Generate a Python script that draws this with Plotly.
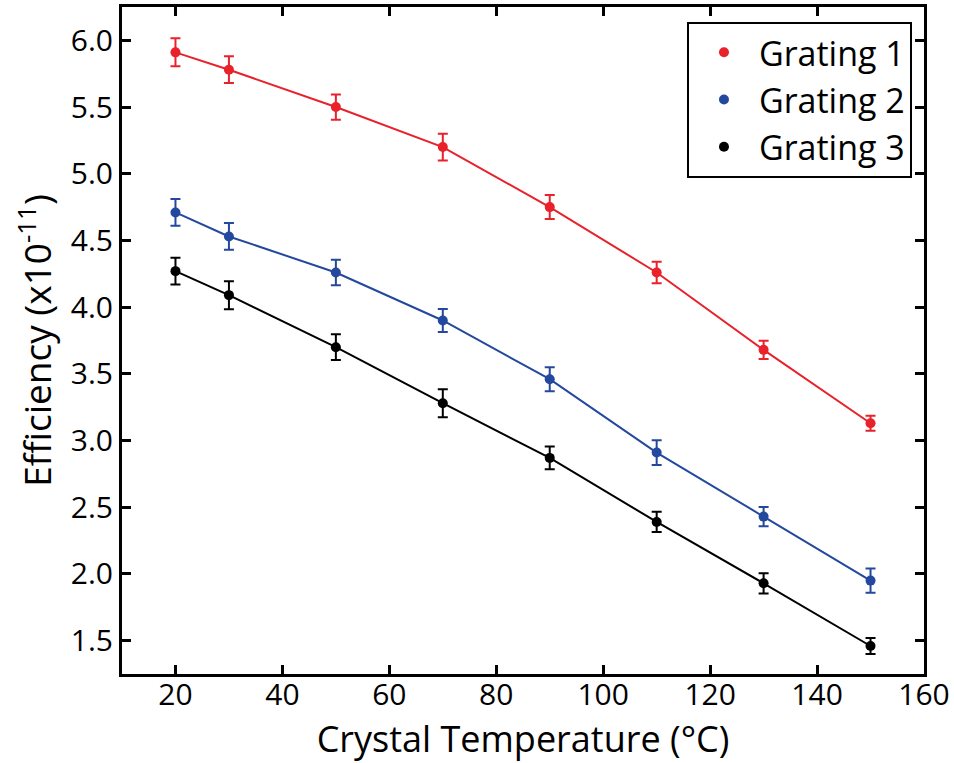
import plotly.graph_objects as go

temps = [20, 30, 50, 70, 90, 110, 130, 150]
g1 = [5.91, 5.78, 5.50, 5.20, 4.75, 4.26, 3.68, 3.13]
g1_err = [0.105, 0.10, 0.095, 0.10, 0.09, 0.08, 0.068, 0.056]
g2 = [4.71, 4.53, 4.26, 3.90, 3.46, 2.91, 2.43, 1.95]
g2_err = [0.10, 0.10, 0.095, 0.087, 0.09, 0.093, 0.072, 0.09]
g3 = [4.27, 4.09, 3.70, 3.28, 2.87, 2.39, 1.93, 1.46]
g3_err = [0.10, 0.105, 0.096, 0.105, 0.085, 0.076, 0.076, 0.06]

names = ["Grating 1", "Grating 2", "Grating 3"]
colors = ["#e8212b", "#23489e", "#000000"]
series = [(g1, g1_err), (g2, g2_err), (g3, g3_err)]

FONT = "Open Sans"

fig = go.Figure()
for name, col, (ys, es) in zip(names, colors, series):
    fig.add_trace(go.Scatter(
        x=temps, y=ys, mode="lines+markers", name=name,
        line=dict(color=col, width=2),
        marker=dict(color=col, size=10),
        error_y=dict(type="data", array=es, visible=True, color=col,
                     thickness=2, width=5),
        showlegend=False,
    ))
for name, col, (ys, es) in zip(names, colors, series):
    fig.add_trace(go.Scatter(
        x=[None], y=[None], mode="markers", name=name,
        marker=dict(color=col, size=10),
        showlegend=True,
    ))

axis_common = dict(
    showline=True, linecolor="black", linewidth=3, mirror="ticks",
    ticks="inside", ticklen=9, tickwidth=2.5, tickcolor="black",
    showgrid=False, zeroline=False,
    tickfont=dict(family=FONT, size=30, color="black"),
)

fig.update_layout(
    width=954, height=763,
    margin=dict(l=122, r=30, t=4, b=89),
    paper_bgcolor="white", plot_bgcolor="white",
    font=dict(family=FONT, color="black"),
    xaxis=dict(range=[10, 160], tickvals=[20, 40, 60, 80, 100, 120, 140, 160],
               ticklabelstandoff=-8,
               title=dict(text="Crystal Temperature (°C)",
                          font=dict(family=FONT, size=36), standoff=12),
               **axis_common),
    yaxis=dict(range=[1.25, 6.25], tickvals=[1.5, 2.0, 2.5, 3.0, 3.5, 4.0, 4.5, 5.0, 5.5, 6.0],
               tickformat=".1f",
               title=dict(text="Efficiency (x10<sup>-11</sup>)",
                          font=dict(family=FONT, size=37), standoff=8),
               **axis_common),
    legend=dict(x=0.985, y=0.978, xanchor="right", yanchor="top",
                bordercolor="black", borderwidth=2, bgcolor="white",
                font=dict(family=FONT, size=34, color="black"),
                itemwidth=60, tracegroupgap=0),
)

fig.write_html("out.html")
